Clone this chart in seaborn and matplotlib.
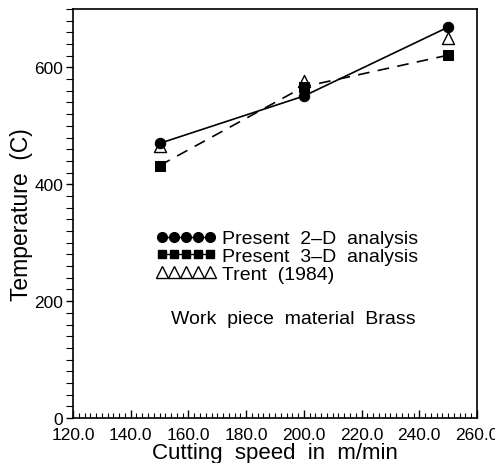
import matplotlib
matplotlib.use("Agg")
import matplotlib.pyplot as plt
import seaborn as sns
import pandas as pd
from matplotlib.lines import Line2D
from matplotlib.ticker import MultipleLocator, FormatStrFormatter

sns.set_theme(style="ticks")
plt.rcParams['font.family'] = ['Liberation Sans', 'DejaVu Sans']
plt.rcParams['text.color'] = 'black'
plt.rcParams['axes.labelcolor'] = 'black'
plt.rcParams['xtick.color'] = 'black'
plt.rcParams['ytick.color'] = 'black'

speed = [150, 200, 250]
temp_2d = [470, 551, 669]
temp_3d = [432, 567, 621]
temp_trent = [466, 576, 651]

labels = ["Present  2\u2013D  analysis", "Present  3\u2013D  analysis", "Trent  (1984)"]

df2 = pd.DataFrame({"speed": speed, "temp": temp_2d})
df3 = pd.DataFrame({"speed": speed, "temp": temp_3d})
dft = pd.DataFrame({"speed": speed, "temp": temp_trent})

fig = plt.figure(figsize=(4.95, 4.64), dpi=100)
ax = fig.add_axes([73/495, 1-419/464, 404/495, 409/464])

sns.lineplot(data=df2, x="speed", y="temp", ax=ax, color="black", lw=1.2,
             marker="o", markersize=7.5, markeredgecolor="black", markerfacecolor="black")
sns.lineplot(data=df3, x="speed", y="temp", ax=ax, color="black", lw=1.2,
             marker="s", markersize=6.5, markeredgecolor="black", markerfacecolor="black",
             dashes=False, linestyle=(0, (7, 5)))
sns.scatterplot(data=dft, x="speed", y="temp", ax=ax, marker="^", s=75,
                facecolor="white", edgecolor="black", linewidth=1.0, zorder=1)

ax.set_xlim(120, 260)
ax.set_ylim(0, 700)
ax.xaxis.set_major_locator(MultipleLocator(20))
ax.xaxis.set_minor_locator(MultipleLocator(2))
ax.xaxis.set_major_formatter(FormatStrFormatter("%.1f"))
ax.yaxis.set_major_locator(MultipleLocator(200))
ax.yaxis.set_minor_locator(MultipleLocator(20))

ax.tick_params(axis="x", which="major", direction="in", length=6, width=1, labelsize=12.5, pad=6.5, color="black")
ax.tick_params(axis="x", which="minor", direction="in", length=3.5, width=0.8, color="black")
ax.tick_params(axis="y", which="major", direction="out", length=5, width=1, labelsize=12.5, pad=2, color="black")
ax.tick_params(axis="y", which="minor", direction="out", length=5, width=0.8, color="black")
for s in ax.spines.values():
    s.set_color("black")
    s.set_linewidth(1.2)

ax.set_xlabel("Cutting  speed  in  m/min", fontsize=16, labelpad=0, color="black")
ax.set_ylabel("Temperature  (C)", fontsize=16.5, labelpad=1, color="black")

handles = [
    Line2D([], [], color="black", lw=1.0, marker="o", markersize=7, markerfacecolor="black"),
    Line2D([], [], color="black", lw=1.0, marker="s", markersize=6.3, markerfacecolor="black"),
    Line2D([], [], color="none", marker="^", markersize=8, markerfacecolor="white",
           markeredgecolor="black", markeredgewidth=1.0),
]
leg = ax.legend(handles, labels, loc="upper left", bbox_to_anchor=(0.205, 0.46), frameon=False,
          numpoints=5, handlelength=3.1, handletextpad=0.3, fontsize=14,
          borderpad=0, borderaxespad=0, labelspacing=0.0)
for t in leg.get_texts():
    t.set_color("black")

ax.text(0.545, 0.244, "Work  piece  material  Brass", transform=ax.transAxes,
        ha="center", va="center", fontsize=14, color="black")

fig.savefig("out.png", dpi=100)
